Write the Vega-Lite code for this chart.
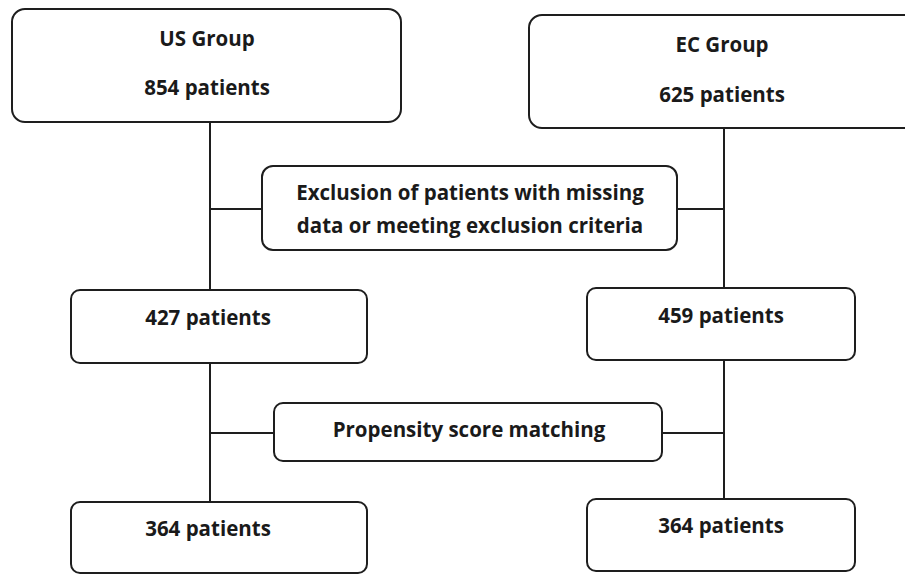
{
  "$schema": "https://vega.github.io/schema/vega-lite/v6.json",
  "width": 905,
  "height": 575,
  "autosize": {"type": "fit", "contains": "padding"},
  "padding": 0,
  "background": "white",
  "config": {"view": {"stroke": null}},
  "datasets": {
    "lines": [
      {"x": 210, "y": 122, "x2": 210, "y2": 290},
      {"x": 210, "y": 209, "x2": 262, "y2": 209},
      {"x": 677, "y": 209, "x2": 724, "y2": 209},
      {"x": 724, "y": 128, "x2": 724, "y2": 288},
      {"x": 210, "y": 363, "x2": 210, "y2": 501},
      {"x": 210, "y": 433, "x2": 274, "y2": 433},
      {"x": 662, "y": 433, "x2": 724, "y2": 433},
      {"x": 724, "y": 360, "x2": 724, "y2": 499}
    ],
    "boxes": [
      {"name": "US", "kind": "big", "x": 12, "x2": 401, "y": 9, "y2": 122},
      {"name": "EC", "kind": "big", "x": 529, "x2": 935, "y": 15, "y2": 128},
      {"name": "Excl", "kind": "mid", "x": 262, "x2": 677, "y": 166, "y2": 250},
      {"name": "427", "kind": "small", "x": 71, "x2": 367, "y": 290, "y2": 363},
      {"name": "459", "kind": "small", "x": 587, "x2": 855, "y": 288, "y2": 360},
      {"name": "Prop", "kind": "small", "x": 274, "x2": 662, "y": 403, "y2": 461},
      {"name": "364L", "kind": "small", "x": 71, "x2": 367, "y": 502, "y2": 573},
      {"name": "364R", "kind": "small", "x": 587, "x2": 855, "y": 499, "y2": 571}
    ],
    "labels": [
      {"x": 207, "y": 40, "text": "US Group"},
      {"x": 207, "y": 89, "text": "854 patients"},
      {"x": 722, "y": 46, "text": "EC Group"},
      {"x": 722, "y": 96, "text": "625 patients"},
      {"x": 470, "y": 194, "text": "Exclusion of patients with missing"},
      {"x": 470, "y": 227, "text": "data or meeting exclusion criteria"},
      {"x": 208, "y": 319, "text": "427 patients"},
      {"x": 721, "y": 317, "text": "459 patients"},
      {"x": 469, "y": 431, "text": "Propensity score matching"},
      {"x": 208, "y": 530, "text": "364 patients"},
      {"x": 721, "y": 527, "text": "364 patients"}
    ]
  },
  "layer": [
    {
      "data": {"name": "lines"},
      "mark": {"type": "rule", "color": "#1e1e1e", "strokeWidth": 2},
      "encoding": {
        "x": {"field": "x", "type": "quantitative", "scale": {"domain": [0, 905], "nice": false, "zero": false}, "axis": null},
        "y": {"field": "y", "type": "quantitative", "scale": {"domain": [0, 575], "nice": false, "zero": false, "reverse": true}, "axis": null},
        "x2": {"field": "x2"},
        "y2": {"field": "y2"}
      }
    },
    {
      "data": {"name": "boxes"},
      "transform": [{"filter": "datum.kind === 'big'"}],
      "mark": {"type": "rect", "fill": "white", "stroke": "#1e1e1e", "strokeWidth": 2, "cornerRadius": 13, "clip": true},
      "encoding": {
        "x": {"field": "x", "type": "quantitative", "axis": null},
        "x2": {"field": "x2"},
        "y": {"field": "y", "type": "quantitative", "axis": null},
        "y2": {"field": "y2"}
      }
    },
    {
      "data": {"name": "boxes"},
      "transform": [{"filter": "datum.kind === 'mid'"}],
      "mark": {"type": "rect", "fill": "white", "stroke": "#1e1e1e", "strokeWidth": 2, "cornerRadius": 11, "clip": true},
      "encoding": {
        "x": {"field": "x", "type": "quantitative", "axis": null},
        "x2": {"field": "x2"},
        "y": {"field": "y", "type": "quantitative", "axis": null},
        "y2": {"field": "y2"}
      }
    },
    {
      "data": {"name": "boxes"},
      "transform": [{"filter": "datum.kind === 'small'"}],
      "mark": {"type": "rect", "fill": "white", "stroke": "#1e1e1e", "strokeWidth": 2, "cornerRadius": 9, "clip": true},
      "encoding": {
        "x": {"field": "x", "type": "quantitative", "axis": null},
        "x2": {"field": "x2"},
        "y": {"field": "y", "type": "quantitative", "axis": null},
        "y2": {"field": "y2"}
      }
    },
    {
      "data": {"name": "labels"},
      "mark": {"type": "text", "font": "Open Sans", "fontWeight": "bold", "fontSize": 20.5, "color": "#1a1a1a", "align": "center", "baseline": "middle"},
      "encoding": {
        "x": {"field": "x", "type": "quantitative", "axis": null},
        "y": {"field": "y", "type": "quantitative", "axis": null},
        "text": {"field": "text"}
      }
    }
  ]
}
